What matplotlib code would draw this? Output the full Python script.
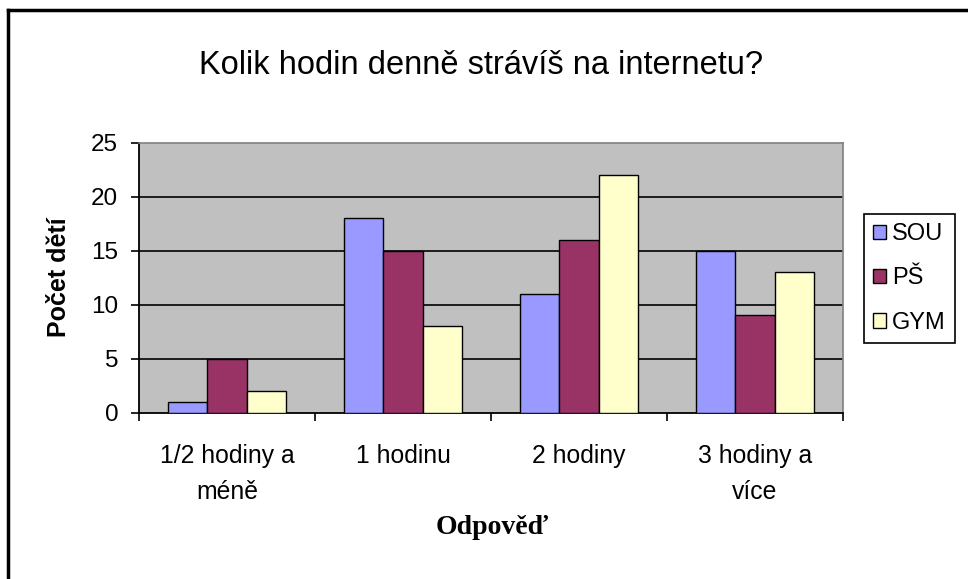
import matplotlib
matplotlib.use("Agg")
import matplotlib.pyplot as plt
from matplotlib.lines import Line2D
from matplotlib.patches import Patch
import numpy as np

categories = ["1/2 hodiny a\nméně", "1 hodinu", "2 hodiny", "3 hodiny a\nvíce"]
series_names = ["SOU", "PŠ", "GYM"]
sou = [1, 18, 11, 15]
ps = [5, 15, 16, 9]
gym = [2, 8, 22, 13]
colors = ["#9999FF", "#993366", "#FFFFCC"]
yticks = [0, 5, 10, 15, 20, 25]

W, H = 968, 579
fig = plt.figure(figsize=(W / 100, H / 100), dpi=100)
fig.patch.set_facecolor("white")

# outer frame (top and left edges)
fig.add_artist(Line2D([8 / W, 8 / W], [0, 1 - 10 / H], transform=fig.transFigure, color="black", lw=2.5))
fig.add_artist(Line2D([8 / W, 1], [1 - 10 / H, 1 - 10 / H], transform=fig.transFigure, color="black", lw=2.5))

left, right, top, bottom = 139, 843, 143, 412.5
ax = fig.add_axes([left / W, 1 - bottom / H, (right - left) / W, (bottom - top) / H])
ax.set_facecolor("#C0C0C0")

x = np.arange(len(categories))
w = 1 / 4.5
for i, (vals, c, name) in enumerate(zip([sou, ps, gym], colors, series_names)):
    ax.bar(x + (i - 1) * w, vals, width=w, color=c, edgecolor="black", linewidth=1.0,
           label=name, zorder=3)

ax.set_xlim(-0.5, len(categories) - 0.5)
ax.set_ylim(0, 25)
ax.set_yticks(yticks)
ax.set_yticklabels([str(v) for v in yticks], fontsize=17.5, family="Liberation Sans")
for v in yticks[1:-1]:
    ax.axhline(v, color="black", lw=1.2, zorder=1)

ax.set_xticks(np.arange(len(categories) + 1) - 0.5)
ax.set_xticklabels([])
ax.set_xticks(x, minor=True)
ax.set_xticklabels(categories, minor=True, fontsize=17.8, family="Liberation Sans", linespacing=1.6)
ax.tick_params(axis="x", which="minor", length=0, pad=23)
ax.tick_params(axis="x", which="major", length=6, width=1.2, direction="out")
ax.tick_params(axis="y", length=6, width=1.2, direction="out", pad=9)

for s in ["top", "right"]:
    ax.spines[s].set_color("#808080")
    ax.spines[s].set_linewidth(1.2)
for s in ["left", "bottom"]:
    ax.spines[s].set_color("black")
    ax.spines[s].set_linewidth(1.3)

fig.text(481 / W, 1 - 65 / H, "Kolik hodin denně strávíš na internetu?", ha="center", va="center",
         fontsize=23.5, family="Liberation Sans")
fig.text(59 / W, 1 - 277 / H, "Počet dětí", ha="center", va="center", rotation=90,
         fontsize=18, fontweight="bold", family="Liberation Sans")
fig.text(492 / W, 1 - 528 / H, "Odpověď", ha="center", va="center",
         fontsize=20, fontweight="bold", family="Liberation Serif")

handles = [Patch(facecolor=c, edgecolor="black", label=n) for c, n in zip(colors, series_names)]
leg = fig.legend(handles=handles, loc="upper left",
                 bbox_to_anchor=(864 / W, 1 - 214 / H), bbox_transform=fig.transFigure,
                 prop={"family": "Liberation Sans", "size": 17},
                 frameon=True, fancybox=False, edgecolor="black", framealpha=1,
                 handlelength=0.55, handleheight=0.55, handletextpad=0.25,
                 labelspacing=0.95, borderpad=0.38, borderaxespad=0)
leg.get_frame().set_linewidth(1.2)

fig.savefig("out.png", dpi=100)
